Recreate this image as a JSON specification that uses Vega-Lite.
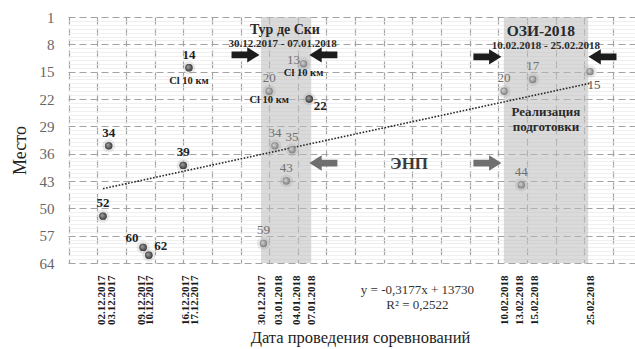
{
  "$schema": "https://vega.github.io/schema/vega-lite/v6.json",
  "width": 567,
  "height": 246,
  "autosize": {"type": "none"},
  "padding": {"left": 68, "top": 17, "right": 0, "bottom": 86},
  "background": "white",
  "config": {
    "view": {"stroke": null},
    "font": "Liberation Serif",
    "text": {"font": "Liberation Serif"},
    "axis": {"labelFont": "Liberation Serif", "titleFont": "Liberation Serif"}
  },
  "datasets": {
    "races": [
      {"date": "2017-12-02T00:00", "place": 52, "race": null},
      {"date": "2017-12-03T00:00", "place": 34, "race": null},
      {"date": "2017-12-09T00:00", "place": 60, "race": null},
      {"date": "2017-12-10T00:00", "place": 62, "race": null},
      {"date": "2017-12-16T00:00", "place": 39, "race": null},
      {"date": "2017-12-17T00:00", "place": 14, "race": "Cl 10 км"},
      {"date": "2017-12-30T00:00", "place": 59, "race": null},
      {"date": "2017-12-31T00:00", "place": 20, "race": "Cl 10 км"},
      {"date": "2018-01-01T00:00", "place": 34, "race": null},
      {"date": "2018-01-03T00:00", "place": 43, "race": null},
      {"date": "2018-01-04T00:00", "place": 35, "race": null},
      {"date": "2018-01-06T00:00", "place": 13, "race": "Cl 10 км"},
      {"date": "2018-01-07T00:00", "place": 22, "race": null},
      {"date": "2018-02-10T00:00", "place": 20, "race": null},
      {"date": "2018-02-13T00:00", "place": 44, "race": null},
      {"date": "2018-02-15T00:00", "place": 17, "race": null},
      {"date": "2018-02-25T00:00", "place": 15, "race": null}
    ],
    "bands": [
      {"event": "Тур де Ски", "start": "2017-12-29T14:00", "end": "2018-01-07T08:00"},
      {"event": "ОЗИ-2018", "start": "2018-02-09T23:00", "end": "2018-02-24T16:00"}
    ],
    "arrows": [
      {"date": "2017-12-26T21:00", "place": 10.7, "dir": "right", "tone": "black"},
      {"date": "2018-01-09T11:00", "place": 10.7, "dir": "left", "tone": "black"},
      {"date": "2018-02-07T02:00", "place": 11.2, "dir": "right", "tone": "black"},
      {"date": "2018-02-27T04:00", "place": 11.2, "dir": "left", "tone": "black"},
      {"date": "2018-01-09T11:00", "place": 38.4, "dir": "left", "tone": "gray"},
      {"date": "2018-02-07T02:00", "place": 38.4, "dir": "right", "tone": "gray"}
    ],
    "notes": [
      {"date": "2018-01-02T18:00", "place": 4.3, "text": "Тур де Ски", "role": "tour"},
      {"date": "2018-01-02T08:00", "place": 7.9, "text": "30.12.2017 - 07.01.2018", "role": "period"},
      {"date": "2018-02-16T10:00", "place": 4.6, "text": "ОЗИ-2018", "role": "ozi"},
      {"date": "2018-02-17T07:00", "place": 8.4, "text": "10.02.2018 - 25.02.2018", "role": "period"},
      {"date": "2018-02-17T07:00", "place": 25.3, "text": "Реализация\nподготовки", "role": "phase"},
      {"date": "2018-01-24T10:00", "place": 38.6, "text": "ЭНП", "role": "enp"},
      {"date": "2018-01-25T21:00", "place": 70.9, "text": "y = -0,3177x + 13730\nR² = 0,2522", "role": "eq"}
    ]
  },
  "resolve": {"axis": {"x": "independent", "y": "independent"}},
  "layer": [
    {
      "data": {"name": "bands"},
      "mark": {"type": "rect", "color": "#bcbcbc", "opacity": 0.55},
      "encoding": {
        "x": {
          "field": "start", "type": "temporal",
          "scale": {"domain": [{"year": 2017, "month": 11, "date": 25, "hours": 21, "minutes": 24}, {"year": 2018, "month": 3, "date": 4, "hours": 20, "minutes": 10}]},
          "axis": {
            "orient": "top", "grid": true, "labels": false, "ticks": false, "domain": false, "title": null,
            "gridDash": [7, 4], "gridColor": "#a3a3a3", "gridWidth": 1.2,
            "values": [
              {"year": 2017, "month": 11, "date": 26}, {"year": 2017, "month": 12, "date": 1}, {"year": 2017, "month": 12, "date": 6},
              {"year": 2017, "month": 12, "date": 11}, {"year": 2017, "month": 12, "date": 16}, {"year": 2017, "month": 12, "date": 21},
              {"year": 2017, "month": 12, "date": 26}, {"year": 2017, "month": 12, "date": 31}, {"year": 2018, "month": 1, "date": 5},
              {"year": 2018, "month": 1, "date": 10}, {"year": 2018, "month": 1, "date": 15}, {"year": 2018, "month": 1, "date": 20},
              {"year": 2018, "month": 1, "date": 25}, {"year": 2018, "month": 1, "date": 30}, {"year": 2018, "month": 2, "date": 4},
              {"year": 2018, "month": 2, "date": 9}, {"year": 2018, "month": 2, "date": 14}, {"year": 2018, "month": 2, "date": 19},
              {"year": 2018, "month": 2, "date": 24}, {"year": 2018, "month": 3, "date": 1}
            ]
          }
        },
        "x2": {"field": "end"}
      }
    },
    {
      "data": {"name": "races"},
      "mark": {"type": "circle", "size": 170, "color": "#8a8a8a", "opacity": 0.18},
      "encoding": {
        "x": {"field": "date", "type": "temporal", "axis": null},
        "y": {
          "field": "place", "type": "quantitative",
          "scale": {"domain": [1, 64], "reverse": true, "nice": false, "zero": false},
          "axis": {
            "orient": "right", "grid": true, "labels": false, "ticks": false, "domain": false, "title": null,
            "gridColor": "#ebebeb", "gridWidth": 0.8,
            "values": [2,3,4,5,6,7,9,10,11,12,13,14,16,17,18,19,20,21,23,24,25,26,27,28,30,31,32,33,34,35,37,38,39,40,41,42,44,45,46,47,48,49,51,52,53,54,55,56,58,59,60,61,62,63]
          }
        }
      }
    },
    {
      "data": {"name": "races"},
      "transform": [{"regression": "place", "on": "date"}],
      "mark": {"type": "line", "color": "#2a2a2a", "strokeWidth": 1.6, "strokeDash": [1.6, 1.6]},
      "encoding": {
        "x": {"field": "date", "type": "temporal", "axis": null},
        "y": {"field": "place", "type": "quantitative", "axis": null}
      }
    },
    {
      "data": {"name": "races"},
      "mark": {"type": "circle", "size": 55, "opacity": 1,
        "color": {"gradient": "radial", "x1": 0.35, "y1": 0.35, "r1": 0, "x2": 0.5, "y2": 0.5, "r2": 0.55,
          "stops": [{"offset": 0, "color": "#d8d8d8"}, {"offset": 1, "color": "#777777"}]}},
      "encoding": {
        "x": {
          "field": "date", "type": "temporal",
          "axis": {
            "orient": "bottom", "grid": false, "ticks": false, "domain": false,
            "format": "%d.%m.%Y", "labelAngle": -90, "labelFont": "Liberation Serif", "labelFontWeight": "bold", "labelFontSize": 11,
            "labelColor": "#1a1a1a", "labelPadding": 12, "labelOverlap": false, "labelBound": false, "labelFlush": false,
            "values": [
              {"year": 2017, "month": 12, "date": 2}, {"year": 2017, "month": 12, "date": 3},
              {"year": 2017, "month": 12, "date": 9}, {"year": 2017, "month": 12, "date": 10},
              {"year": 2017, "month": 12, "date": 16}, {"year": 2017, "month": 12, "date": 17},
              {"year": 2017, "month": 12, "date": 30}, {"year": 2018, "month": 1, "date": 3},
              {"year": 2018, "month": 1, "date": 4}, {"year": 2018, "month": 1, "date": 7},
              {"year": 2018, "month": 2, "date": 10}, {"year": 2018, "month": 2, "date": 13},
              {"year": 2018, "month": 2, "date": 15}, {"year": 2018, "month": 2, "date": 25}
            ],
            "labelOffset": {
              "condition": [
                {"test": "month(datum.value)==11 && date(datum.value)==2", "value": -1.5},
                {"test": "month(datum.value)==11 && date(datum.value)==3", "value": 3},
                {"test": "month(datum.value)==11 && date(datum.value)==9", "value": -1.5},
                {"test": "month(datum.value)==11 && date(datum.value)==10", "value": 1},
                {"test": "month(datum.value)==11 && date(datum.value)==16", "value": 2},
                {"test": "month(datum.value)==11 && date(datum.value)==17", "value": 6},
                {"test": "month(datum.value)==11 && date(datum.value)==30", "value": -2},
                {"test": "month(datum.value)==0 && date(datum.value)==3", "value": -8},
                {"test": "month(datum.value)==0 && date(datum.value)==4", "value": 4.5},
                {"test": "month(datum.value)==0 && date(datum.value)==7", "value": 2.5},
                {"test": "month(datum.value)==1 && date(datum.value)==13", "value": -2},
                {"test": "month(datum.value)==1 && date(datum.value)==15", "value": 2}
              ],
              "value": 0
            },
            "title": "Дата проведения соревнований", "titleFont": "Liberation Serif", "titleFontSize": 16.5, "titleFontWeight": "normal",
            "titleColor": "#222222", "titleX": 292, "titleY": 74, "titleBaseline": "middle", "titleAlign": "center"
          }
        },
        "y": {
          "field": "place", "type": "quantitative",
          "axis": {
            "orient": "left", "grid": true, "ticks": false, "domain": false,
            "values": [1, 8, 15, 22, 29, 36, 43, 50, 57, 64],
            "gridDash": [7, 4], "gridColor": "#a3a3a3", "gridWidth": 1.2,
            "labelFont": "Liberation Serif", "labelFontSize": 15, "labelColor": "#666666", "labelPadding": 14,
            "title": "Место", "titleFont": "Liberation Serif", "titleFontSize": 18, "titleFontWeight": "normal", "titleColor": "#222222",
            "titleX": -48, "titleY": 133, "titleBaseline": "middle", "titleAlign": "center", "titleAngle": -90
          }
        }
      }
    },
    {
      "data": {"name": "races"},
      "transform": [{"filter": "(year(datum.date)==2017 && date(datum.date)<20) || datum.place==22"}],
      "mark": {"type": "circle", "size": 55, "opacity": 1,
        "color": {"gradient": "radial", "x1": 0.35, "y1": 0.35, "r1": 0, "x2": 0.5, "y2": 0.5, "r2": 0.55,
          "stops": [{"offset": 0, "color": "#a8a8a8"}, {"offset": 1, "color": "#333333"}]}},
      "encoding": {
        "x": {"field": "date", "type": "temporal", "axis": null},
        "y": {"field": "place", "type": "quantitative", "axis": null}
      }
    },
    {
      "data": {"name": "races"},
      "transform": [{"filter": "((year(datum.date)==2017 && date(datum.date)<20) || datum.place==22) && indexof([60,62,13,22,15], datum.place) < 0"}],
      "mark": {"type": "text", "dy": -13, "fontSize": 13, "fontWeight": "bold", "color": "#1e1e1e", "font": "Liberation Serif"},
      "encoding": {
        "x": {"field": "date", "type": "temporal", "axis": null},
        "y": {"field": "place", "type": "quantitative", "axis": null},
        "text": {"field": "place", "type": "quantitative"}
      }
    },
    {
      "data": {"name": "races"},
      "transform": [{"filter": "!((year(datum.date)==2017 && date(datum.date)<20) || datum.place==22) && indexof([60,62,13,22,15], datum.place) < 0"}],
      "mark": {"type": "text", "dy": -13, "fontSize": 13, "color": "#6f6f6f", "font": "Liberation Serif"},
      "encoding": {
        "x": {"field": "date", "type": "temporal", "axis": null},
        "y": {"field": "place", "type": "quantitative", "axis": null},
        "text": {"field": "place", "type": "quantitative"}
      }
    },
    {
      "data": {"name": "races"},
      "transform": [{"filter": "datum.place==60"}],
      "mark": {"type": "text", "dx": -11, "dy": -9, "fontSize": 13, "fontWeight": "bold", "color": "#1e1e1e", "font": "Liberation Serif"},
      "encoding": {
        "x": {"field": "date", "type": "temporal", "axis": null},
        "y": {"field": "place", "type": "quantitative", "axis": null},
        "text": {"field": "place", "type": "quantitative"}
      }
    },
    {
      "data": {"name": "races"},
      "transform": [{"filter": "datum.place==62"}],
      "mark": {"type": "text", "dx": 12, "dy": -9, "fontSize": 13, "fontWeight": "bold", "color": "#1e1e1e", "font": "Liberation Serif"},
      "encoding": {
        "x": {"field": "date", "type": "temporal", "axis": null},
        "y": {"field": "place", "type": "quantitative", "axis": null},
        "text": {"field": "place", "type": "quantitative"}
      }
    },
    {
      "data": {"name": "races"},
      "transform": [{"filter": "datum.place==13"}],
      "mark": {"type": "text", "dx": -10, "dy": -4, "fontSize": 13, "color": "#6f6f6f", "font": "Liberation Serif"},
      "encoding": {
        "x": {"field": "date", "type": "temporal", "axis": null},
        "y": {"field": "place", "type": "quantitative", "axis": null},
        "text": {"field": "place", "type": "quantitative"}
      }
    },
    {
      "data": {"name": "races"},
      "transform": [{"filter": "datum.place==22"}],
      "mark": {"type": "text", "dx": 11, "dy": 7, "fontSize": 13, "fontWeight": "bold", "color": "#1e1e1e", "font": "Liberation Serif"},
      "encoding": {
        "x": {"field": "date", "type": "temporal", "axis": null},
        "y": {"field": "place", "type": "quantitative", "axis": null},
        "text": {"field": "place", "type": "quantitative"}
      }
    },
    {
      "data": {"name": "races"},
      "transform": [{"filter": "datum.place==15"}],
      "mark": {"type": "text", "dx": 4, "dy": 13, "fontSize": 13, "color": "#555555", "font": "Liberation Serif"},
      "encoding": {
        "x": {"field": "date", "type": "temporal", "axis": null},
        "y": {"field": "place", "type": "quantitative", "axis": null},
        "text": {"field": "place", "type": "quantitative"}
      }
    },
    {
      "data": {"name": "races"},
      "transform": [{"filter": "datum.race != null && datum.place == 14"}],
      "mark": {"type": "text", "dy": 13, "fontSize": 10.5, "fontWeight": "bold", "color": "#1e1e1e", "font": "Liberation Serif"},
      "encoding": {
        "x": {"field": "date", "type": "temporal", "axis": null},
        "y": {"field": "place", "type": "quantitative", "axis": null},
        "text": {"field": "race", "type": "nominal"}
      }
    },
    {
      "data": {"name": "races"},
      "transform": [{"filter": "datum.race != null && datum.place != 14"}],
      "mark": {"type": "text", "dy": 9, "fontSize": 10.5, "fontWeight": "bold", "color": "#1e1e1e", "font": "Liberation Serif"},
      "encoding": {
        "x": {"field": "date", "type": "temporal", "axis": null},
        "y": {"field": "place", "type": "quantitative", "axis": null},
        "text": {"field": "race", "type": "nominal"}
      }
    },
    {
      "data": {"name": "arrows"},
      "mark": {"type": "point", "filled": true, "size": 784, "opacity": 1, "strokeWidth": 0},
      "encoding": {
        "x": {"field": "date", "type": "temporal", "axis": null},
        "y": {"field": "place", "type": "quantitative", "axis": null},
        "shape": {"field": "dir", "type": "nominal", "legend": null,
          "scale": {"domain": ["right", "left"], "range": [
            "M-1,-0.24L0.12,-0.24L0.12,-0.55L1,0L0.12,0.55L0.12,0.24L-1,0.24Z",
            "M1,-0.24L-0.12,-0.24L-0.12,-0.55L-1,0L-0.12,0.55L-0.12,0.24L1,0.24Z"]}},
        "color": {"field": "tone", "type": "nominal", "legend": null,
          "scale": {"domain": ["black", "gray"], "range": ["#1c1c1c", "#6f6f6f"]}}
      }
    },
    {
      "data": {"name": "notes"},
      "transform": [{"filter": "datum.role == 'tour'"}],
      "mark": {"type": "text", "fontSize": 14, "fontWeight": "bold", "color": "#2a2a2a", "font": "Liberation Serif", "baseline": "middle"},
      "encoding": {
        "x": {"field": "date", "type": "temporal", "axis": null},
        "y": {"field": "place", "type": "quantitative", "axis": null},
        "text": {"field": "text", "type": "nominal"}
      }
    },
    {
      "data": {"name": "notes"},
      "transform": [{"filter": "datum.role == 'ozi'"}],
      "mark": {"type": "text", "fontSize": 15.5, "fontWeight": "bold", "color": "#2a2a2a", "font": "Liberation Serif", "baseline": "middle"},
      "encoding": {
        "x": {"field": "date", "type": "temporal", "axis": null},
        "y": {"field": "place", "type": "quantitative", "axis": null},
        "text": {"field": "text", "type": "nominal"}
      }
    },
    {
      "data": {"name": "notes"},
      "transform": [{"filter": "datum.role == 'period'"}],
      "mark": {"type": "text", "fontSize": 11, "fontWeight": "bold", "color": "#2a2a2a", "font": "Liberation Serif", "baseline": "middle"},
      "encoding": {
        "x": {"field": "date", "type": "temporal", "axis": null},
        "y": {"field": "place", "type": "quantitative", "axis": null},
        "text": {"field": "text", "type": "nominal"}
      }
    },
    {
      "data": {"name": "notes"},
      "transform": [{"filter": "datum.role == 'phase'"}],
      "mark": {"type": "text", "fontSize": 13, "fontWeight": "bold", "color": "#2a2a2a", "font": "Liberation Serif", "baseline": "middle", "lineBreak": "\n", "lineHeight": 15},
      "encoding": {
        "x": {"field": "date", "type": "temporal", "axis": null},
        "y": {"field": "place", "type": "quantitative", "axis": null},
        "text": {"field": "text", "type": "nominal"}
      }
    },
    {
      "data": {"name": "notes"},
      "transform": [{"filter": "datum.role == 'enp'"}],
      "mark": {"type": "text", "fontSize": 17, "fontWeight": "bold", "color": "#3a3a3a", "font": "Liberation Serif", "baseline": "middle"},
      "encoding": {
        "x": {"field": "date", "type": "temporal", "axis": null},
        "y": {"field": "place", "type": "quantitative", "axis": null},
        "text": {"field": "text", "type": "nominal"}
      }
    },
    {
      "data": {"name": "notes"},
      "transform": [{"filter": "datum.role == 'eq'"}],
      "mark": {"type": "text", "fontSize": 13, "color": "#333333", "font": "Liberation Serif", "baseline": "middle", "lineBreak": "\n", "lineHeight": 15},
      "encoding": {
        "x": {"field": "date", "type": "temporal", "axis": null},
        "y": {"field": "place", "type": "quantitative", "axis": null},
        "text": {"field": "text", "type": "nominal"}
      }
    }
  ]
}
